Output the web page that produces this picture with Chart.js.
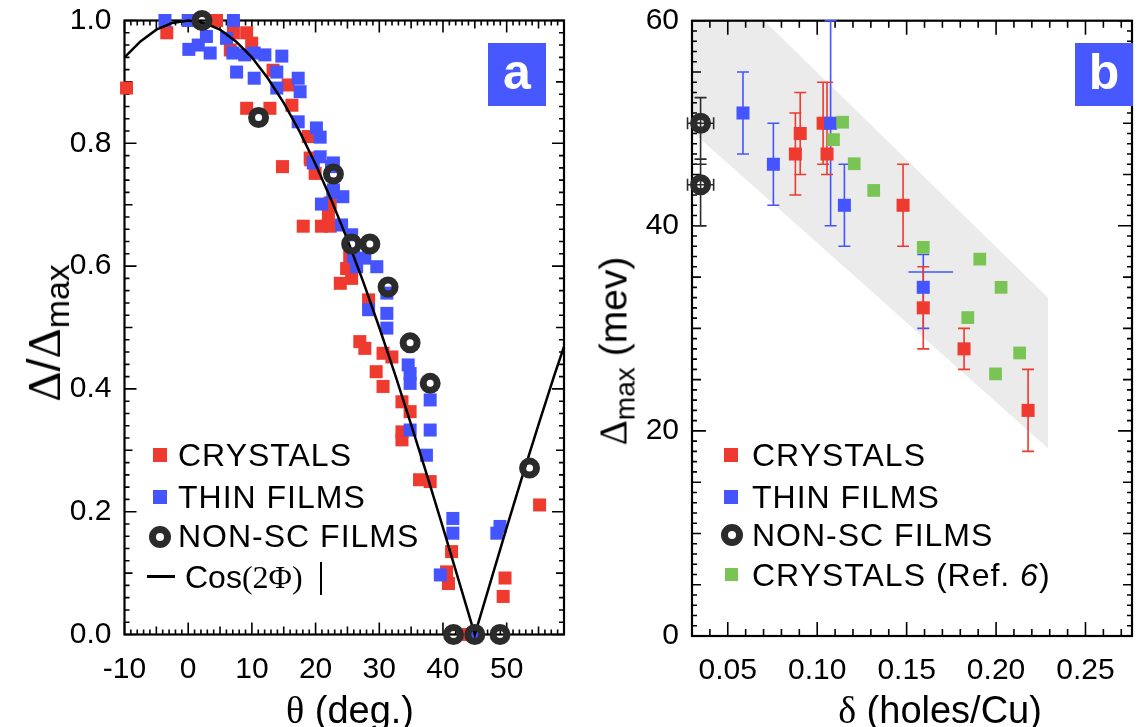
<!DOCTYPE html>
<html>
<head>
<meta charset="utf-8">
<script src="https://cdn.jsdelivr.net/npm/chart.js@4.4.1/dist/chart.umd.min.js"></script>
<style>
  body { margin: 0; background: #fff; width: 1146px; height: 727px; overflow: hidden; position: relative;
         font-family: 'Liberation Sans', Arial, Helvetica, sans-serif; }
  canvas { position: absolute; top: 0; }
  #chartA { left: 0; }
  #chartB { left: 580px; }
  .lab { position: absolute; white-space: nowrap; color: #000; line-height: 36px; }
  .leg { font-size: 32px; letter-spacing: 1px; }
  .rot { transform: translate(-50%, -50%) rotate(-90deg); line-height: 1; }
  .ctr { transform: translate(-50%, -50%); line-height: 1; }
  .sub { font-size: 0.72em; position: relative; top: 0.28em; }
  .greek { font-family: 'Liberation Serif', 'DejaVu Serif', serif; }
  .sq { position: absolute; width: 14px; height: 14px; }
  .ring { position: absolute; width: 22px; height: 22px; box-sizing: border-box; border: 7px solid #2b2b2b; border-radius: 50%; }
  .tag { position: absolute; width: 58px; height: 63px; background: #4858ff; color: #fff; font-weight: bold;
         font-size: 50px; text-align: center; line-height: 58px; }
</style>
</head>
<body>
<canvas id="chartA" width="580" height="727"></canvas>
<canvas id="chartB" width="566" height="727"></canvas>

<!-- panel a texts -->
<div class="tag" style="left:488px;top:43px;">a</div>
<div class="sq" style="left:153px;top:448px;background:#ef3a2f;"></div>
<div class="lab leg" style="left:178px;top:437px;">CRYSTALS</div>
<div class="sq" style="left:153px;top:490px;background:#4455ff;"></div>
<div class="lab leg" style="left:178px;top:479px;">THIN FILMS</div>
<div class="ring" style="left:149px;top:526px;"></div>
<div class="lab leg" style="left:178px;top:518px;">NON-SC FILMS</div>
<div style="position:absolute;left:147px;top:575px;width:28px;height:3px;background:#000;"></div>
<div class="lab leg" style="left:185px;top:559px;letter-spacing:0;">Cos<span class="greek">(2Φ)</span></div>
<div style="position:absolute;left:320px;top:562px;width:2px;height:33px;background:#000;"></div>
<div class="lab ctr" style="left:350px;top:710px;font-size:38px;"><span class="greek">θ</span> (deg.)</div>
<div class="lab rot" style="left:44px;top:333px;font-size:47px;"><span class="greek">Δ</span>/<span class="greek">Δ</span><span class="sub">max</span></div>

<!-- panel b texts -->
<div class="tag" style="left:1075px;top:43px;">b</div>
<div class="sq" style="left:724px;top:448px;background:#ef3a2f;"></div>
<div class="lab leg" style="left:752px;top:437px;">CRYSTALS</div>
<div class="sq" style="left:724px;top:490px;background:#4455ff;"></div>
<div class="lab leg" style="left:752px;top:479px;">THIN FILMS</div>
<div class="ring" style="left:721px;top:524px;"></div>
<div class="lab leg" style="left:752px;top:517px;">NON-SC FILMS</div>
<div class="sq" style="left:725px;top:568px;width:13px;height:13px;background:#78c454;"></div>
<div class="lab leg" style="left:752px;top:557px;">CRYSTALS (Ref. <i>6</i>)</div>
<div class="lab ctr" style="left:940px;top:710px;font-size:38px;"><span class="greek">δ</span> (holes/Cu)</div>
<div class="lab rot" style="left:613px;top:351px;font-size:39px;"><span class="greek">Δ</span><span class="sub">max</span> (mev)</div>

<script>
// ---- panel a : gap anisotropy vs angle ----
var crystalTheta = [-9.68, -3.36, 4.44, 7.10, 9.18, 9.97, 6.61, 13.32, 15.69, 16.28, 9.18, 12.83, 14.80, 18.85,
  19.24, 19.93, 22.30, 19.15, 18.06, 20.92, 22.30, 22.01, 25.36, 24.87, 25.66, 23.88, 28.32, 26.94, 27.73,
  30.59, 31.98, 29.51, 30.59, 33.56, 34.84, 33.56, 33.56, 36.32, 37.99, 41.35, 40.56, 40.86, 55.17, 49.74,
  49.45, 44.02];
var crystalGap = [0.89, 0.98, 1.0, 0.98, 0.98, 0.963, 0.952, 0.919, 0.895, 0.862, 0.857, 0.857, 0.762, 0.811,
  0.773, 0.751, 0.703, 0.776, 0.665, 0.665, 0.665, 0.683, 0.615, 0.596, 0.58, 0.572, 0.545, 0.477, 0.466,
  0.458, 0.452, 0.428, 0.404, 0.379, 0.363, 0.33, 0.317, 0.252, 0.249, 0.135, 0.102, 0.083, 0.211, 0.092,
  0.062, 0.0];
var filmTheta = [-3.65, 0.0, 7.10, 0.10, 1.58, 2.86, 3.45, 6.02, 7.01, 7.60, 8.88, 10.36, 12.04, 14.70, 10.36,
  13.91, 13.91, 17.27, 17.57, 17.27, 20.13, 20.72, 20.72, 22.50, 24.28, 20.92, 22.70, 22.80, 19.64, 22.80,
  24.08, 25.66, 25.96, 26.45, 27.73, 29.61, 31.19, 28.32, 31.19, 31.19, 34.54, 34.84, 34.84, 37.99, 37.99,
  34.84, 37.40, 41.55, 41.55, 39.58, 48.95, 48.46, 45.0];
var filmGap = [1.0, 1.0, 1.0, 0.953, 0.96, 0.974, 0.947, 0.971, 0.947, 0.916, 0.944, 0.947, 0.944, 0.942, 0.906,
  0.916, 0.89, 0.906, 0.884, 0.835, 0.825, 0.81, 0.778, 0.762, 0.713, 0.701, 0.72, 0.768, 0.768, 0.724,
  0.667, 0.651, 0.615, 0.599, 0.613, 0.599, 0.556, 0.529, 0.523, 0.499, 0.439, 0.425, 0.409, 0.382, 0.333,
  0.333, 0.292, 0.189, 0.165, 0.097, 0.176, 0.165, 0.0];
var nonscTheta = [2.17, 11.05, 22.80, 25.66, 28.52, 31.38, 34.84, 37.99, 41.65, 45.0, 48.95, 53.59];
var nonscGap = [1.0, 0.842, 0.75, 0.636, 0.636, 0.566, 0.475, 0.409, 0.0, 0.0, 0.0, 0.271];
var cosTheta = [-10, -7.5, -5, -2.5, 0, 2.5, 5, 7.5, 10, 12.5, 15, 17.5, 20, 22.5, 25, 27.5, 30, 32.5, 35,
  37.5, 40, 42.5, 45, 47.5, 50, 52.5, 55, 57.5, 59];
var cosGap = [0.940, 0.966, 0.985, 0.996, 1, 0.996, 0.985, 0.966, 0.940, 0.906, 0.866, 0.819, 0.766, 0.707,
  0.643, 0.574, 0.5, 0.423, 0.342, 0.259, 0.174, 0.087, 0, 0.087, 0.174, 0.259, 0.342, 0.423, 0.469];
var thetaTicks = [-10, 0, 10, 20, 30, 40, 50];
var ratioTicks = [0, 0.2, 0.4, 0.6, 0.8, 1.0];

// ---- panel b : gap maximum vs doping ----
var crysDop = [0.0878, 0.0905, 0.1033, 0.1055, 0.148, 0.1593, 0.1821, 0.2179];
var crysMax = [47, 49, 50, 47, 42, 32, 28, 22];
var crysMaxLo = [43, 45, 46, 45, 38, 28, 26, 18];
var crysMaxHi = [51, 53, 54, 54, 46, 36, 30, 26];
var filmDop = [0.0585, 0.0755, 0.1075, 0.1152, 0.1593];
var filmMax = [51, 46, 50, 42, 34];
var filmMaxLo = [47, 42, 40, 38, 30];
var filmMaxHi = [55, 50, 60, 46, 37.2];
var filmDopBarAt = [35.5];
var filmDopBarLo = [0.151];
var filmDopBarHi = [0.176];
var nonscDop = [0.0348, 0.0348];
var nonscMax = [50, 44];
var nonscMaxLo = [46, 40];
var nonscMaxHi = [52.5, 46.5];
var nonscDopLo = [0.0275, 0.0275];
var nonscDopHi = [0.0421, 0.0421];
var ref6Dop = [0.1142, 0.1091, 0.1207, 0.1316, 0.1593, 0.1909, 0.2028, 0.1842, 0.2132, 0.1997];
var ref6Max = [50.1, 48.4, 46.05, 43.45, 37.9, 36.75, 34.0, 31.05, 27.6, 25.56];
var bandDop = [0.03, 0.0704, 0.229, 0.229, 0.03];
var bandMax = [60, 60, 33, 18.3, 49.2];
var dopTicks = [0.05, 0.10, 0.15, 0.20, 0.25];
var maxTicks = [0, 20, 40, 60];

var RED = '#ef3a2f', BLUE = '#4455ff', GREEN = '#78c454', RING = '#2b2b2b';
var FONT = "'Liberation Sans', Arial, Helvetica, sans-serif";

function pts(xs, ys) {
  return xs.map(function (x, i) { return { x: x, y: ys[i] }; });
}

// frame, inward ticks, band and error bars, all placed through the scales
function framePlugin(spec) {
  return {
    id: 'frame',
    beforeDatasetsDraw: function (chart) {
      var ctx = chart.ctx, a = chart.chartArea;
      var xs = chart.scales.x, ys = chart.scales.y;
      ctx.save();
      if (spec.bandX) {
        ctx.fillStyle = '#ebebeb';
        ctx.beginPath();
        spec.bandX.forEach(function (v, i) {
          var px = xs.getPixelForValue(v), py = ys.getPixelForValue(spec.bandY[i]);
          if (i == 0) ctx.moveTo(px, py); else ctx.lineTo(px, py);
        });
        ctx.closePath();
        ctx.fill();
      }
      ctx.strokeStyle = '#000';
      ctx.lineWidth = 1.6;
      ctx.beginPath();
      spec.xTicks.forEach(function (t) {
        var p = xs.getPixelForValue(t[0]);
        ctx.moveTo(p, a.bottom); ctx.lineTo(p, a.bottom - t[1]);
        ctx.moveTo(p, a.top); ctx.lineTo(p, a.top + t[1]);
      });
      spec.yTicks.forEach(function (t) {
        var p = ys.getPixelForValue(t[0]);
        ctx.moveTo(a.left, p); ctx.lineTo(a.left + t[1], p);
        ctx.moveTo(a.right, p); ctx.lineTo(a.right - t[1], p);
      });
      ctx.stroke();
      ctx.lineWidth = 2.2;
      ctx.strokeRect(a.left, a.top, a.right - a.left, a.bottom - a.top);

      // error bars
      ctx.lineWidth = 1.6;
      chart.data.datasets.forEach(function (ds) {
        if (!ds.errLo && !ds.xErrLo && !ds.hBars) return;
        ctx.strokeStyle = ds.errColor;
        ctx.beginPath();
        ds.data.forEach(function (d, j) {
          var px = xs.getPixelForValue(d.x), py = ys.getPixelForValue(d.y);
          if (ds.errLo) {
            var lo = ys.getPixelForValue(ds.errLo[j]), hi = ys.getPixelForValue(ds.errHi[j]);
            ctx.moveTo(px, lo); ctx.lineTo(px, hi);
            ctx.moveTo(px - 6, lo); ctx.lineTo(px + 6, lo);
            ctx.moveTo(px - 6, hi); ctx.lineTo(px + 6, hi);
          }
          if (ds.xErrLo) {
            var l = xs.getPixelForValue(ds.xErrLo[j]), r = xs.getPixelForValue(ds.xErrHi[j]);
            ctx.moveTo(l, py); ctx.lineTo(r, py);
            ctx.moveTo(l, py - 6); ctx.lineTo(l, py + 6);
            ctx.moveTo(r, py - 6); ctx.lineTo(r, py + 6);
          }
        });
        if (ds.hBars) {
          ds.hBars.at.forEach(function (v, k) {
            var py = ys.getPixelForValue(v);
            ctx.moveTo(xs.getPixelForValue(ds.hBars.lo[k]), py);
            ctx.lineTo(xs.getPixelForValue(ds.hBars.hi[k]), py);
          });
        }
        ctx.stroke();
      });
      ctx.restore();
    }
  };
}

function axisX(min, max, ticks, fmt, height) {
  return {
    type: 'linear', min: min, max: max,
    grid: { display: false, drawTicks: false }, border: { display: false },
    afterBuildTicks: function (s) { s.ticks = ticks.map(function (v) { return { value: v }; }); },
    afterFit: function (s) { s.height = height; s.paddingLeft = 0; s.paddingRight = 0; },
    ticks: { color: '#000', padding: 17, maxRotation: 0, autoSkip: false,
             font: { family: FONT, size: 30 }, callback: fmt }
  };
}
function axisY(min, max, ticks, fmt, width) {
  return {
    type: 'linear', min: min, max: max,
    grid: { display: false, drawTicks: false }, border: { display: false },
    afterBuildTicks: function (s) { s.ticks = ticks.map(function (v) { return { value: v }; }); },
    afterFit: function (s) { s.width = width; s.paddingTop = 0; s.paddingBottom = 0; },
    ticks: { color: '#000', padding: 13, autoSkip: false,
             font: { family: FONT, size: 30 }, callback: fmt }
  };
}

// tick mark lists
var aXT = [], aYT = [], bXT = [], bYT = [];
for (var v = -10; v <= 59; v++) aXT.push([v, v % 10 == 0 ? 12 : (v % 5 == 0 ? 8 : 5)]);
for (var i = 0; i <= 50; i++) aYT.push([i * 0.02, i % 10 == 0 ? 12 : (i % 5 == 0 ? 8 : 5)]);
for (var k = 3; k <= 27; k++) bXT.push([k / 100, k % 5 == 0 ? 14 : 7]);
for (var m = 0; m <= 60; m++) bYT.push([m, m % 20 == 0 ? 14 : (m % 5 == 0 ? 9 : 5)]);

new Chart(document.getElementById('chartA'), {
  type: 'scatter',
  data: {
    datasets: [
      { label: 'NON-SC FILMS', data: pts(nonscTheta, nonscGap), pointStyle: 'circle', pointRadius: 7,
        borderWidth: 7, borderColor: RING, backgroundColor: 'rgba(0,0,0,0)', clip: false },
      { label: 'Cos(2Φ)', data: pts(cosTheta, cosGap), showLine: true, pointRadius: 0,
        borderColor: '#000', borderWidth: 2.5, clip: false },
      { label: 'THIN FILMS', data: pts(filmTheta, filmGap), pointStyle: 'rect', pointRadius: 9.2,
        borderWidth: 0, backgroundColor: BLUE, clip: false },
      { label: 'CRYSTALS', data: pts(crystalTheta, crystalGap), pointStyle: 'rect', pointRadius: 9.2,
        borderWidth: 0, backgroundColor: RED, clip: false }
    ]
  },
  options: {
    responsive: false, animation: false, events: [],
    layout: { padding: { left: 0, top: 20.5, right: 16, bottom: 0 } },
    plugins: { legend: { display: false }, tooltip: { enabled: false } },
    scales: {
      x: axisX(-10, 59, thetaTicks, function (v) { return String(v); }, 92.5),
      y: axisY(0, 1, ratioTicks, function (v) { return v.toFixed(1); }, 124.5)
    }
  },
  plugins: [framePlugin({ xTicks: aXT, yTicks: aYT })]
});

new Chart(document.getElementById('chartB'), {
  type: 'scatter',
  data: {
    datasets: [
      { label: 'NON-SC FILMS', data: pts(nonscDop, nonscMax), pointStyle: 'circle', pointRadius: 7,
        borderWidth: 7, borderColor: RING, backgroundColor: 'rgba(0,0,0,0)', clip: false,
        errLo: nonscMaxLo, errHi: nonscMaxHi, xErrLo: nonscDopLo, xErrHi: nonscDopHi, errColor: RING },
      { label: 'CRYSTALS (Ref. 6)', data: pts(ref6Dop, ref6Max), pointStyle: 'rect', pointRadius: 9,
        borderWidth: 0, backgroundColor: GREEN, clip: false },
      { label: 'THIN FILMS', data: pts(filmDop, filmMax), pointStyle: 'rect', pointRadius: 9.2,
        borderWidth: 0, backgroundColor: BLUE, clip: false, errLo: filmMaxLo, errHi: filmMaxHi,
        hBars: { at: filmDopBarAt, lo: filmDopBarLo, hi: filmDopBarHi }, errColor: BLUE },
      { label: 'CRYSTALS', data: pts(crysDop, crysMax), pointStyle: 'rect', pointRadius: 9.2,
        borderWidth: 0, backgroundColor: RED, clip: false, errLo: crysMaxLo, errHi: crysMaxHi, errColor: RED }
    ]
  },
  options: {
    responsive: false, animation: false, events: [],
    layout: { padding: { left: 0, top: 20.7, right: 6, bottom: 0 } },
    plugins: { legend: { display: false }, tooltip: { enabled: false } },
    scales: {
      x: axisX(0.03, 0.276, dopTicks, function (v) { return v.toFixed(2); }, 91),
      y: axisY(0, 60, maxTicks, function (v) { return String(v); }, 112)
    }
  },
  plugins: [framePlugin({ xTicks: bXT, yTicks: bYT, bandX: bandDop, bandY: bandMax })]
});
</script>
</body>
</html>
